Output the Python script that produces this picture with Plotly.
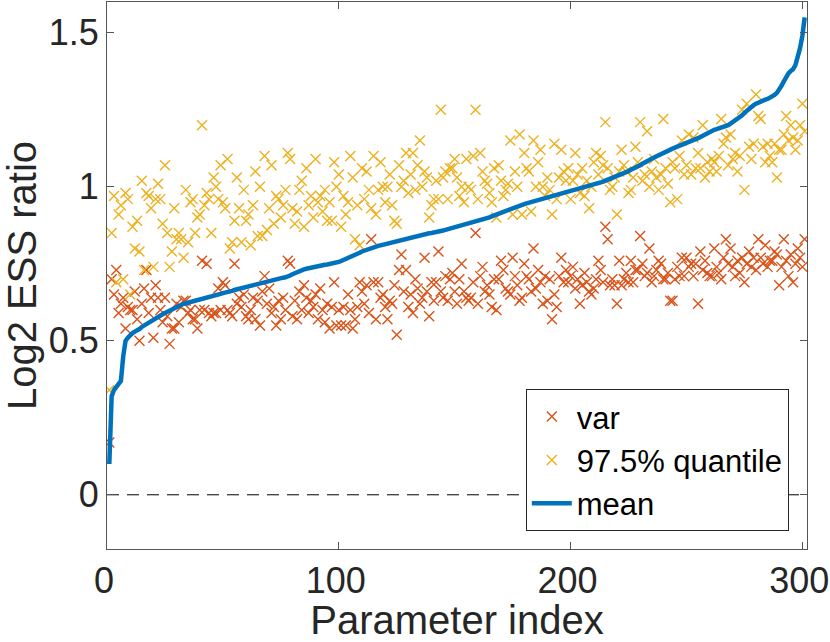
import plotly.graph_objects as go

var_vals = [
    0.17, 0.70, 0.65, 0.73, 0.59, 0.62, 0.64, 0.54, 0.61, 0.60,
    0.60, 0.66, 0.57, 0.50, 0.62, 0.67, 0.73, 0.59, 0.64, 0.51,
    0.68, 0.64, 0.60, 0.56, 0.64, 0.58, 0.49, 0.54, 0.54, 0.62,
    0.56, 0.61, 0.63, 0.63, 0.59, 0.60, 0.57, 0.57, 0.54, 0.60,
    0.76, 0.60, 0.75, 0.59, 0.58, 0.59, 0.59, 0.67, 0.60, 0.69,
    0.68, 0.60, 0.59, 0.58, 0.75, 0.62, 0.64, 0.61, 0.65, 0.58,
    0.57, 0.60, 0.64, 0.57, 0.63, 0.55, 0.66, 0.71, 0.62, 0.67,
    0.59, 0.61, 0.55, 0.63, 0.57, 0.64, 0.60, 0.76, 0.75, 0.58,
    0.63, 0.57, 0.66, 0.60, 0.68, 0.64, 0.59, 0.63, 0.61, 0.65,
    0.57, 0.67, 0.60, 0.56, 0.62, 0.54, 0.61, 0.69, 0.55, 0.60,
    0.55, 0.61, 0.55, 0.65, 0.60, 0.54, 0.57, 0.61, 0.69, 0.66,
    0.62, 0.68, 0.59, 0.83, 0.69, 0.57, 0.69, 0.64, 0.65, 0.61,
    0.57, 0.63, 0.62, 0.68, 0.52, 0.73, 0.78, 0.66, 0.73, 0.61,
    0.65, 0.59, 0.70, 0.67, 0.62, 0.64, 0.77, 0.66, 0.58, 0.69,
    0.63, 0.69, 0.79, 0.66, 0.64, 0.71, 0.63, 0.70, 0.72, 0.66,
    0.62, 0.70, 0.75, 0.66, 0.64, 0.63, 0.64, 0.69, 0.85, 0.62,
    0.71, 0.74, 0.66, 0.68, 0.65, 0.61, 0.70, 0.60, 0.70, 0.76,
    0.73, 0.67, 0.66, 0.65, 0.77, 0.71, 0.68, 0.63, 0.64, 0.75,
    0.71, 0.70, 0.66, 0.80, 0.67, 0.73, 0.69, 0.62, 0.71, 0.63,
    0.70, 0.57, 0.65, 0.61, 0.71, 0.77, 0.69, 0.73, 0.69, 0.71,
    0.74, 0.67, 0.70, 0.62, 0.68, 0.72, 0.69, 0.66, 0.65, 0.67,
    0.70, 0.76, 0.73, 0.69, 0.87, 0.83, 0.68, 0.70, 0.68, 0.62,
    0.76, 0.68, 0.70, 0.72, 0.69, 0.76, 0.69, 0.73, 0.73, 0.84,
    0.75, 0.71, 0.72, 0.80, 0.69, 0.71, 0.73, 0.76, 0.75, 0.70,
    0.70, 0.72, 0.63, 0.63, 0.70, 0.74, 0.71, 0.77, 0.71, 0.77,
    0.74, 0.75, 0.71, 0.75, 0.62, 0.79, 0.73, 0.76, 0.72, 0.71,
    0.71, 0.80, 0.74, 0.72, 0.70, 0.77, 0.83, 0.75, 0.80, 0.74,
    0.71, 0.76, 0.72, 0.77, 0.69, 0.75, 0.79, 0.74, 0.77, 0.73,
    0.83, 0.77, 0.75, 0.81, 0.74, 0.76, 0.76, 0.79, 0.78, 0.68,
    0.74, 0.83, 0.76, 0.71, 0.78, 0.69, 0.75, 0.80, 0.77, 0.74,
    0.83,
]

quantile_vals = [
    0.34, 0.85, 0.97, 0.69, 0.91, 0.94, 0.70, 0.98, 0.96, 0.65,
    0.87, 0.80, 0.89, 0.79, 1.02, 0.73, 0.98, 0.97, 0.93, 0.74,
    0.96, 1.01, 0.96, 0.88, 1.07, 0.85, 0.74, 0.79, 0.93, 0.83,
    0.85, 0.83, 0.77, 0.99, 0.82, 0.95, 0.96, 0.85, 0.90, 0.91,
    1.20, 0.94, 0.98, 0.96, 0.85, 1.03, 1.00, 0.96, 1.07, 0.95,
    0.93, 1.09, 0.80, 0.82, 0.89, 1.03, 0.93, 0.82, 0.99, 0.89,
    0.91, 0.81, 0.94, 1.05, 0.84, 1.00, 0.84, 1.10, 0.86, 0.93,
    1.07, 0.88, 0.97, 0.96, 0.90, 0.94, 0.99, 1.11, 1.09, 0.93,
    0.88, 0.92, 0.99, 1.02, 0.87, 1.06, 0.94, 0.97, 0.90, 1.09,
    0.95, 0.97, 0.92, 0.99, 0.89, 0.95, 0.89, 1.08, 1.00, 1.04,
    0.87, 0.97, 0.91, 0.95, 1.10, 1.03, 0.83, 0.94, 0.81, 1.06,
    0.96, 1.05, 0.99, 0.93, 1.10, 0.91, 0.99, 1.08, 1.00, 0.95,
    1.00, 1.04, 0.94, 0.89, 0.88, 1.07, 1.00, 1.02, 1.11, 0.98,
    1.04, 1.11, 0.99, 1.07, 1.15, 1.00, 1.05, 1.03, 0.90, 0.94,
    0.96, 1.02, 0.96, 1.25, 1.03, 1.05, 0.96, 1.06, 1.06, 1.09,
    1.03, 0.97, 1.00, 0.95, 1.09, 1.00, 0.99, 1.10, 1.25, 0.96,
    1.11, 1.05, 1.02, 1.01, 0.98, 0.95, 1.06, 0.90, 1.07, 1.02,
    0.97, 0.99, 1.01, 1.15, 0.91, 1.05, 1.00, 1.17, 0.91, 1.11,
    1.06, 1.05, 0.92, 1.15, 1.00, 1.08, 1.12, 1.00, 0.97, 1.03,
    0.99, 0.91, 1.14, 0.96, 1.03, 1.12, 1.05, 1.02, 1.06, 0.96,
    1.02, 1.11, 1.04, 0.98, 1.06, 0.97, 1.02, 0.93, 1.00, 1.08,
    1.11, 1.04, 1.10, 1.07, 1.21, 1.06, 0.99, 1.00, 1.03, 0.91,
    1.05, 1.12, 1.07, 1.05, 0.98, 0.99, 1.03, 1.13, 1.08, 1.21,
    1.02, 1.04, 1.18, 1.00, 1.05, 1.09, 1.03, 0.99, 1.04, 1.22,
    1.06, 1.01, 0.95, 1.08, 1.06, 0.96, 1.10, 1.15, 1.04, 1.07,
    1.17, 1.04, 1.16, 1.06, 1.11, 1.06, 1.20, 1.03, 1.08, 1.05,
    1.09, 1.08, 1.05, 1.10, 1.22, 1.14, 1.16, 1.07, 1.17, 1.09,
    1.11, 1.05, 1.10, 1.25, 0.99, 1.27, 1.13, 1.09, 1.14, 1.30,
    1.23, 1.22, 1.13, 1.08, 1.14, 1.10, 1.08, 1.14, 1.03, 1.12,
    1.12, 1.17, 1.23, 1.15, 1.20, 1.16, 1.12, 1.15, 1.20, 1.27,
    1.18,
]

mean_vals = [
    0.10, 0.32, 0.34, 0.35, 0.36, 0.37, 0.45, 0.50, 0.51, 0.52,
    0.525, 0.53, 0.533, 0.538, 0.545, 0.55, 0.553, 0.558, 0.565, 0.57,
    0.573, 0.578, 0.582, 0.586, 0.59, 0.594, 0.597, 0.60, 0.604, 0.608,
    0.612, 0.616, 0.62, 0.622, 0.624, 0.626, 0.628, 0.629, 0.631, 0.632,
    0.634, 0.636, 0.638, 0.640, 0.641, 0.643, 0.646, 0.649, 0.652, 0.655,
    0.656, 0.658, 0.660, 0.662, 0.665, 0.667, 0.669, 0.671, 0.673, 0.675,
    0.677, 0.679, 0.681, 0.684, 0.686, 0.688, 0.689, 0.690, 0.692, 0.694,
    0.695, 0.697, 0.699, 0.701, 0.703, 0.705, 0.706, 0.708, 0.712, 0.716,
    0.720, 0.724, 0.727, 0.730, 0.732, 0.734, 0.736, 0.738, 0.740, 0.741,
    0.742, 0.744, 0.745, 0.747, 0.748, 0.749, 0.750, 0.752, 0.754, 0.756,
    0.759, 0.762, 0.765, 0.768, 0.771, 0.775, 0.779, 0.782, 0.786, 0.790,
    0.793, 0.796, 0.799, 0.802, 0.804, 0.806, 0.808, 0.810, 0.812, 0.814,
    0.815, 0.817, 0.819, 0.821, 0.822, 0.824, 0.826, 0.828, 0.830, 0.832,
    0.834, 0.836, 0.838, 0.840, 0.842, 0.843, 0.845, 0.847, 0.849, 0.850,
    0.851, 0.853, 0.854, 0.856, 0.858, 0.860, 0.862, 0.864, 0.866, 0.868,
    0.870, 0.872, 0.874, 0.876, 0.878, 0.880, 0.882, 0.885, 0.888, 0.891,
    0.893, 0.895, 0.897, 0.899, 0.901, 0.904, 0.907, 0.911, 0.915, 0.918,
    0.920, 0.922, 0.925, 0.928, 0.931, 0.934, 0.937, 0.940, 0.942, 0.944,
    0.946, 0.948, 0.951, 0.954, 0.956, 0.958, 0.960, 0.962, 0.964, 0.967,
    0.969, 0.971, 0.973, 0.975, 0.977, 0.979, 0.981, 0.983, 0.985, 0.987,
    0.989, 0.991, 0.993, 0.995, 0.997, 0.999, 1.001, 1.003, 1.004, 1.006,
    1.008, 1.011, 1.014, 1.017, 1.020, 1.023, 1.025, 1.027, 1.030, 1.033,
    1.036, 1.040, 1.044, 1.048, 1.051, 1.055, 1.058, 1.062, 1.066, 1.070,
    1.075, 1.080, 1.084, 1.088, 1.091, 1.095, 1.099, 1.103, 1.108, 1.112,
    1.115, 1.118, 1.121, 1.124, 1.127, 1.130, 1.133, 1.136, 1.140, 1.142,
    1.144, 1.146, 1.150, 1.154, 1.158, 1.162, 1.166, 1.170, 1.175, 1.180,
    1.183, 1.185, 1.187, 1.189, 1.191, 1.193, 1.195, 1.200, 1.205, 1.210,
    1.214, 1.218, 1.224, 1.232, 1.240, 1.247, 1.254, 1.260, 1.265, 1.270,
    1.274, 1.277, 1.280, 1.283, 1.285, 1.288, 1.292, 1.298, 1.305, 1.315,
    1.328, 1.342, 1.357, 1.368, 1.376, 1.382, 1.395, 1.42, 1.45, 1.49,
    1.55,
]

param_index = list(range(1, len(mean_vals) + 1))
zero_line_x = [0, 300]
zero_line_y = [0, 0]

x_ticks = [0, 100, 200, 300]
y_ticks = [0, 0.5, 1, 1.5]
y_tick_labels = ["0", "0.5", "1", "1.5"]

FONT = "Liberation Sans, Arial, Helvetica, sans-serif"
TXT = "#262626"
AX = "#555555"

fig = go.Figure()

fig.add_trace(go.Scatter(
    x=zero_line_x, y=zero_line_y, mode="lines",
    line=dict(color="black", width=1, dash="12px,8px"),
    showlegend=False, hoverinfo="skip",
))
fig.add_trace(go.Scatter(
    x=param_index, y=var_vals, mode="markers", name="var",
    marker=dict(symbol="x-thin", size=10, color="#D95319",
                line=dict(width=1.4, color="#D95319")),
))
fig.add_trace(go.Scatter(
    x=param_index, y=quantile_vals, mode="markers", name="97.5% quantile",
    marker=dict(symbol="x-thin", size=10, color="#EDB120",
                line=dict(width=1.4, color="#EDB120")),
))
fig.add_trace(go.Scatter(
    x=param_index, y=mean_vals, mode="lines", name="mean",
    line=dict(color="#0072BD", width=4.5),
))

fig.update_layout(
    width=830, height=642,
    margin=dict(l=107, r=23, t=2, b=93, autoexpand=False),
    paper_bgcolor="white", plot_bgcolor="white",
    font=dict(family=FONT, color=TXT, size=36),
    showlegend=True,
    legend=dict(
        x=0.974, y=0.033, xanchor="right", yanchor="bottom",
        bgcolor="white", bordercolor=TXT, borderwidth=1,
        font=dict(family=FONT, size=31, color="black"),
        itemwidth=40, tracegroupgap=0,
    ),
    xaxis=dict(
        range=[0, 302], tickvals=x_ticks, ticks="inside", ticklen=7,
        tickcolor=AX, showline=True, linecolor=AX, linewidth=1,
        mirror="ticks", showgrid=False, zeroline=False,
        tickfont=dict(size=36, color=TXT), ticklabeloverflow="allow",
        ticklabelshift=-3,
        title=dict(text="Parameter index", font=dict(size=40, color=TXT), standoff=9),
    ),
    yaxis=dict(
        range=[-0.176, 1.6], tickvals=y_ticks, ticktext=y_tick_labels,
        ticks="inside", ticklen=7,
        tickcolor=AX, showline=True, linecolor=AX, linewidth=1,
        mirror="ticks", showgrid=False, zeroline=False,
        tickfont=dict(size=36, color=TXT),
        title=dict(text="Log2 ESS ratio", font=dict(size=40, color=TXT), standoff=10),
    ),
)

fig.write_html(
    "out.html",
    config={"displayModeBar": False},
    post_script="document.body.style.margin='0';document.body.style.overflow='hidden';",
)
